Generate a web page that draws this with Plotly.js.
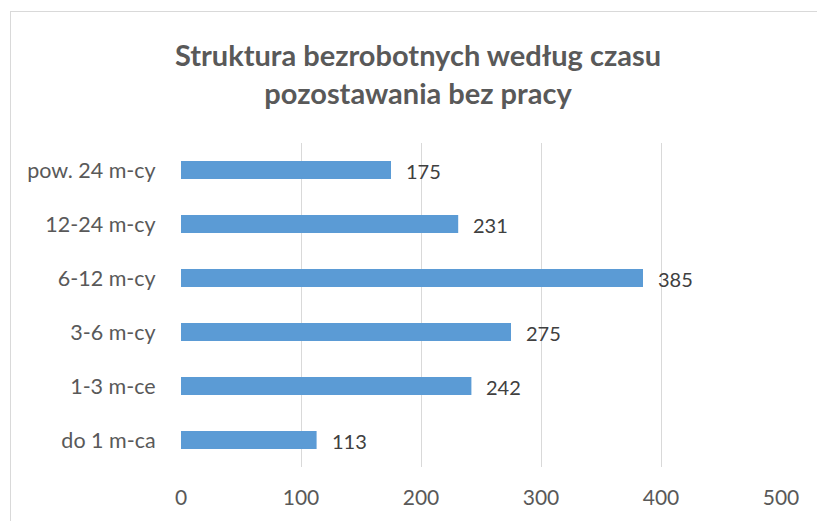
<!DOCTYPE html>
<html>
<head>
<meta charset="utf-8">
<script src="https://cdn.plot.ly/plotly-3.0.1.min.js"></script>
<style>
html,body{margin:0;padding:0;background:#fff;}
#wrap{position:relative;width:817px;height:521px;overflow:hidden;}
#frame{position:absolute;left:10px;top:11px;width:900px;height:600px;border:1px solid #d9d9d9;box-sizing:border-box;pointer-events:none;}
#chart{position:absolute;left:0;top:0;width:817px;height:521px;}
</style>
</head>
<body>
<div id="wrap">
<div id="chart"></div>
<div id="frame"></div>
</div>
<script>
const categories = ["do 1 m-ca", "1-3 m-ce", "3-6 m-cy", "6-12 m-cy", "12-24 m-cy", "pow. 24 m-cy"];
const values = [113, 242, 275, 385, 231, 175];
const tickVals = [0, 100, 200, 300, 400, 500];

const FONT = "Lato, 'Open Sans', sans-serif";

const trace = {
  type: "bar",
  orientation: "h",
  y: categories,
  x: values,
  marker: {color: "#5b9bd5", line: {width: 0}},
  hoverinfo: "none"
};

const annotations = categories.map((c, i) => ({
  x: values[i], y: c, xref: "x", yref: "y",
  text: String(values[i]), showarrow: false,
  xanchor: "left", xshift: 13, yshift: -1,
  font: {family: FONT, size: 20, color: "#404040"}
}));

const layout = {
  width: 817, height: 521,
  margin: {l: 181, r: 36, t: 143, b: 54, pad: 0},
  paper_bgcolor: "rgba(0,0,0,0)",
  plot_bgcolor: "rgba(0,0,0,0)",
  bargap: 0.667,
  showlegend: false,
  title: {
    text: "<b>Struktura bezrobotnych według czasu<br>pozostawania bez pracy</b>",
    x: 418/817, xanchor: "center", xref: "container",
    y: 1 - 66/521, yanchor: "middle", yref: "container",
    font: {family: FONT, size: 29, color: "#595959"}
  },
  xaxis: {
    range: [0, 500],
    tickvals: tickVals,
    ticktext: tickVals.map(String),
    showgrid: true, gridcolor: "#d9d9d9", gridwidth: 1,
    zeroline: false, showline: false, ticks: "outside", tickcolor: "rgba(0,0,0,0)",
    ticklen: 12, tickfont: {family: FONT, size: 21, color: "#595959"},
    fixedrange: true
  },
  yaxis: {
    type: "category",
    categoryorder: "array", categoryarray: categories,
    showgrid: false, zeroline: false, showline: false, ticks: "outside", ticklen: 20, tickcolor: "rgba(0,0,0,0)",
    tickfont: {family: FONT, size: 21.5, color: "#595959"},
    fixedrange: true
  },
  annotations: annotations,
  font: {family: FONT}
};

Plotly.newPlot("chart", [trace], layout, {displayModeBar: false, staticPlot: true});
</script>
</body>
</html>
